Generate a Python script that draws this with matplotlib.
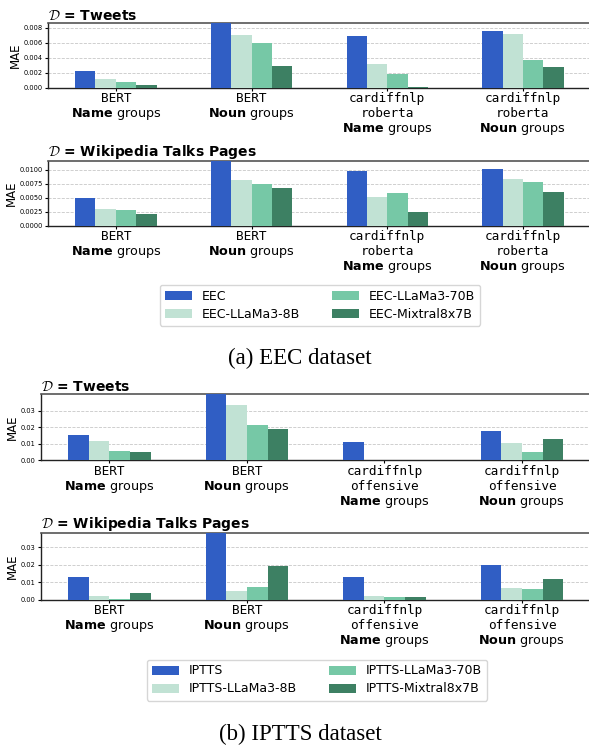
import numpy as np
import matplotlib
matplotlib.use("Agg")
import matplotlib.pyplot as plt
from matplotlib.ticker import MultipleLocator, FormatStrFormatter

# mathtext: sans for rm/bf, computer-modern calligraphic for \mathcal
plt.rcParams["mathtext.fontset"] = "custom"
plt.rcParams["mathtext.rm"] = "DejaVu Sans"
plt.rcParams["mathtext.bf"] = "DejaVu Sans:bold"
plt.rcParams["mathtext.cal"] = "cmsy10"

# =========================
# Data
# =========================
eec_models = [["BERT"], ["BERT"], ["cardiffnlp", "roberta"], ["cardiffnlp", "roberta"]]
iptts_models = [["BERT"], ["BERT"], ["cardiffnlp", "offensive"], ["cardiffnlp", "offensive"]]
group_kinds = ["Name", "Noun", "Name", "Noun"]

eec_series = ["EEC", "EEC-LLaMa3-8B", "EEC-LLaMa3-70B", "EEC-Mixtral8x7B"]
iptts_series = ["IPTTS", "IPTTS-LLaMa3-8B", "IPTTS-LLaMa3-70B", "IPTTS-Mixtral8x7B"]

# EEC, Tweets
eec_tw_orig = [0.0023, 0.0087, 0.0069, 0.0076]
eec_tw_8b = [0.0011, 0.0070, 0.0032, 0.0072]
eec_tw_70b = [0.0007, 0.0060, 0.0019, 0.0037]
eec_tw_mix = [0.0003, 0.0029, 0.00015, 0.0028]

# EEC, Wikipedia
eec_wk_orig = [0.0050, 0.0116, 0.0097, 0.0102]
eec_wk_8b = [0.0030, 0.0081, 0.0051, 0.0083]
eec_wk_70b = [0.0028, 0.0075, 0.0058, 0.0078]
eec_wk_mix = [0.0021, 0.0067, 0.0025, 0.0060]

# IPTTS, Tweets
ip_tw_orig = [0.0153, 0.0399, 0.0111, 0.0177]
ip_tw_8b = [0.0117, 0.0334, 0.0001, 0.0105]
ip_tw_70b = [0.0056, 0.0213, 0.0002, 0.0050]
ip_tw_mix = [0.0050, 0.0189, 0.0003, 0.0129]

# IPTTS, Wikipedia
ip_wk_orig = [0.0130, 0.0380, 0.0130, 0.0199]
ip_wk_8b = [0.0021, 0.0050, 0.0021, 0.0067]
ip_wk_70b = [0.0006, 0.0073, 0.0015, 0.0061]
ip_wk_mix = [0.0038, 0.0193, 0.0015, 0.0118]

COLORS = ["#305EC4", "#C1E2D4", "#76C8A6", "#3D8063"]
W, H = 589, 745


def px_axes(fig, left, top, bottom):
    # pixel coords -> figure fractions
    return fig.add_axes([left / W, 1 - bottom / H, 1.003 - left / W, (bottom - top) / H])


def group_labels(ax, models, kinds):
    # x labels drawn line by line: model name in mono, then "<Kind> groups"
    for i, (mlines, kind) in enumerate(zip(models, kinds)):
        lines = [(m, "DejaVu Sans Mono") for m in mlines]
        lines.append((r"$\mathbf{%s}$ groups" % kind, "DejaVu Sans"))
        for j, (txt, fam) in enumerate(lines):
            ax.annotate(txt, xy=(i, 0), xycoords=("data", "axes fraction"),
                        xytext=(0, -(10.6 + j * 10.8)), textcoords="offset points",
                        ha="center", va="baseline", fontsize=9.2, family=fam)


def draw_panel(ax, models, series, values, title, step, fmt):
    x = np.arange(len(models))
    width = 0.15
    handles = []
    for i, (name, vals) in enumerate(zip(series, values)):
        b = ax.bar(x + (i - 1.5) * width, vals, width, color=COLORS[i], label=name, zorder=3)
        handles.append(b)
    top = max(max(v) for v in values)
    ax.set_ylim(0, top)
    ax.set_xlim(-0.5, 3.5)
    ax.yaxis.set_major_locator(MultipleLocator(step))
    ax.yaxis.set_major_formatter(FormatStrFormatter(fmt))
    ax.set_xticks(x)
    ax.set_xticklabels([""] * len(x))
    group_labels(ax, models, group_kinds)
    ax.tick_params(axis="y", labelsize=4.8, length=2, pad=1.5)
    ax.tick_params(axis="x", length=2.5, pad=2)
    ax.grid(axis="y", linestyle="--", color="#c8c8c8", linewidth=0.6, zorder=0)
    ax.set_ylabel("MAE", fontsize=8.5, labelpad=1.5)
    ax.set_title(title, loc="left", fontsize=10, fontweight="bold", pad=2)
    for s in ["left", "bottom"]:
        ax.spines[s].set_color("#222222")
        ax.spines[s].set_linewidth(1.0)
    ax.spines["top"].set_color("#555555")
    ax.spines["top"].set_linewidth(1.2)
    return handles


def main():
    fig = plt.figure(figsize=(W / 100, H / 100), dpi=100)

    ax1 = px_axes(fig, 48, 22.7, 87.7)
    h1 = draw_panel(ax1, eec_models, eec_series,
                    [eec_tw_orig, eec_tw_8b, eec_tw_70b, eec_tw_mix],
                    r"$\mathcal{D}$ = Tweets", 0.002, "%.3f")

    ax2 = px_axes(fig, 48, 160.7, 225.7)
    draw_panel(ax2, eec_models, eec_series,
               [eec_wk_orig, eec_wk_8b, eec_wk_70b, eec_wk_mix],
               r"$\mathcal{D}$ = Wikipedia Talks Pages", 0.0025, "%.4f")

    ax3 = px_axes(fig, 40.7, 394.3, 460.3)
    h3 = draw_panel(ax3, iptts_models, iptts_series,
                    [ip_tw_orig, ip_tw_8b, ip_tw_70b, ip_tw_mix],
                    r"$\mathcal{D}$ = Tweets", 0.01, "%.2f")

    ax4 = px_axes(fig, 40.7, 533.3, 599.7)
    draw_panel(ax4, iptts_models, iptts_series,
               [ip_wk_orig, ip_wk_8b, ip_wk_70b, ip_wk_mix],
               r"$\mathcal{D}$ = Wikipedia Talks Pages", 0.01, "%.2f")

    fig.legend(handles=h1, labels=eec_series, ncol=2, fontsize=9,
               loc="center", bbox_to_anchor=(320 / W, 1 - 305 / H),
               columnspacing=2.5, handlelength=2.2, labelspacing=0.4)
    fig.legend(handles=h3, labels=iptts_series, ncol=2, fontsize=9,
               loc="center", bbox_to_anchor=(317 / W, 1 - 680 / H),
               columnspacing=2.5, handlelength=2.2, labelspacing=0.4)

    fig.text(300 / W, 1 - 358 / H, "(a) EEC dataset", ha="center", va="center",
             fontsize=16.5, family="Liberation Serif")
    fig.text(300 / W, 1 - 734 / H, "(b) IPTTS dataset", ha="center", va="center",
             fontsize=16.5, family="Liberation Serif")

    fig.savefig("out.png", dpi=100)
    plt.close(fig)


if __name__ == "__main__":
    main()
